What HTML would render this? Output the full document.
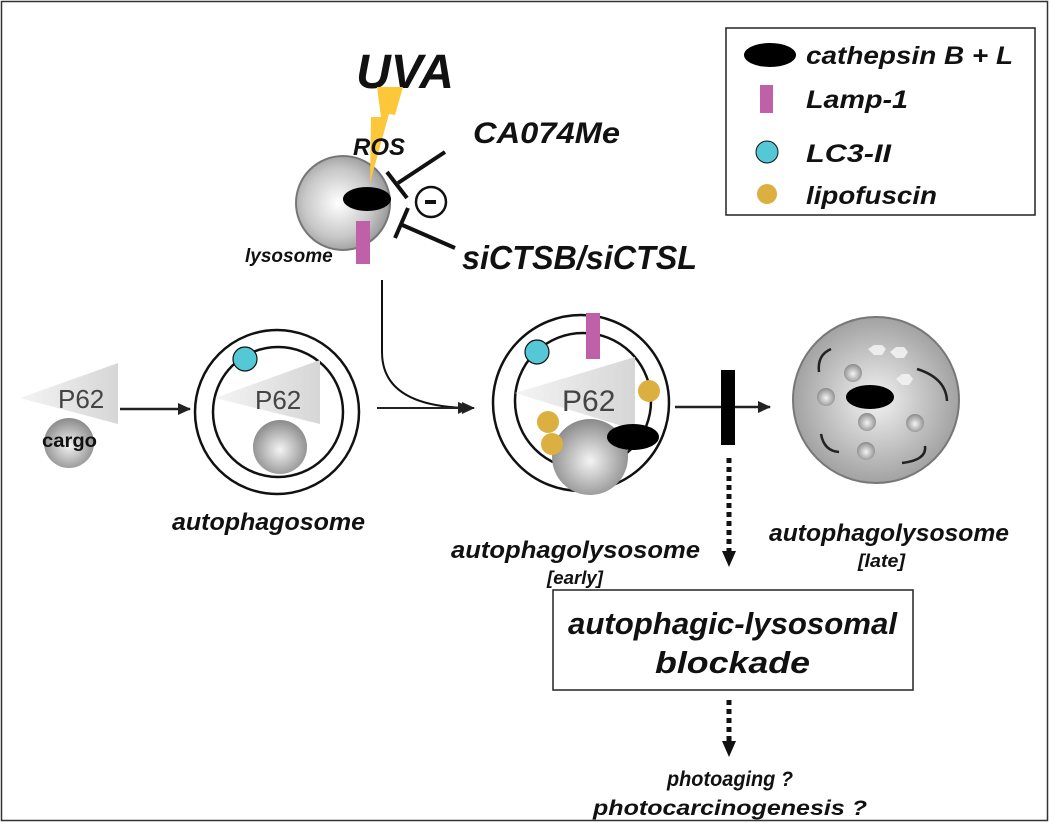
<!DOCTYPE html>
<html><head><meta charset="utf-8"><style>
html,body{margin:0;padding:0;background:#fff}
svg{display:block}
text{font-family:"Liberation Sans",Arial,sans-serif}
.bi{font-weight:bold;font-style:italic;fill:#111}
</style></head><body>
<svg width="1050" height="823" viewBox="0 0 1050 823" xmlns="http://www.w3.org/2000/svg">
<defs>
<radialGradient id="sph" cx="0.45" cy="0.5" r="0.6">
<stop offset="0" stop-color="#ffffff"/><stop offset="0.6" stop-color="#c8c8c8"/><stop offset="1" stop-color="#8c8c8c"/></radialGradient>
<radialGradient id="ball" cx="0.5" cy="0.55" r="0.55">
<stop offset="0" stop-color="#f4f4f4"/><stop offset="1" stop-color="#8a8a8a"/></radialGradient>
<radialGradient id="late" cx="0.5" cy="0.5" r="0.55">
<stop offset="0" stop-color="#f2f2f2"/><stop offset="1" stop-color="#9a9a9a"/></radialGradient>
<linearGradient id="tri" x1="0" y1="0" x2="1" y2="0">
<stop offset="0" stop-color="#f4f4f4"/><stop offset="1" stop-color="#d6d6d6"/></linearGradient>
<marker id="ah" markerWidth="14" markerHeight="12" refX="12" refY="6" orient="auto" markerUnits="userSpaceOnUse"><path d="M0,0 L13,6 L0,12z" fill="#222"/></marker>
</defs>
<rect x="1.5" y="1.5" width="1046" height="819" fill="#fff" stroke="#333" stroke-width="1.5"/>

<!-- legend -->
<rect x="726" y="28" width="309" height="187" fill="#fff" stroke="#222" stroke-width="1.5"/>
<ellipse cx="770" cy="55" rx="26" ry="12" fill="#000"/>
<text x="806" y="64" class="bi" font-size="25" textLength="207" lengthAdjust="spacingAndGlyphs">cathepsin B + L</text>
<rect x="760" y="85" width="13" height="28" fill="#c060a8"/>
<text x="806" y="108" class="bi" font-size="25" textLength="102" lengthAdjust="spacingAndGlyphs">Lamp-1</text>
<circle cx="767" cy="152" r="11" fill="#55c8d5" stroke="#111" stroke-width="1"/>
<text x="806" y="162" class="bi" font-size="25" textLength="85" lengthAdjust="spacingAndGlyphs">LC3-II</text>
<circle cx="767" cy="194" r="10" fill="#dcb040"/>
<text x="806" y="204" class="bi" font-size="25" textLength="131" lengthAdjust="spacingAndGlyphs">lipofuscin</text>

<!-- UVA -->
<text x="405" y="88" class="bi" font-size="48" text-anchor="middle">UVA</text>
<circle cx="343" cy="203" r="47" fill="url(#sph)" stroke="#777" stroke-width="2"/>
<polygon points="377,87 403,87 395,115 389,114 370,183 371,117 381,117" fill="#fcc83a"/>
<text x="353" y="155" class="bi" font-size="24">ROS</text>
<ellipse cx="367" cy="199" rx="24" ry="12" fill="#000"/>
<rect x="356" y="221" width="14" height="43" fill="#c060a8"/>
<text x="245" y="262" class="bi" font-size="19">lysosome</text>
<text x="473" y="143" class="bi" font-size="30" textLength="147" lengthAdjust="spacingAndGlyphs">CA074Me</text>
<text x="462" y="269" class="bi" font-size="33" textLength="235" lengthAdjust="spacingAndGlyphs">siCTSB/siCTSL</text>
<g stroke="#111" stroke-width="4" fill="none">
<line x1="445" y1="152" x2="398" y2="183"/>
<line x1="387" y1="172" x2="407" y2="198"/>
<line x1="455" y1="248" x2="400" y2="224"/>
<line x1="395" y1="238" x2="408" y2="208"/>
</g>
<circle cx="431" cy="202" r="15" fill="#fff" stroke="#111" stroke-width="2.5"/>
<rect x="425" y="200" width="11" height="4" fill="#111"/>

<!-- connectors -->
<path d="M382,280 L382,352 Q382,407 470,408" fill="none" stroke="#111" stroke-width="2" marker-end="url(#ah)"/>
<line x1="377" y1="408" x2="474" y2="408" stroke="#222" stroke-width="2" marker-end="url(#ah)"/>
<line x1="120" y1="409" x2="190" y2="409" stroke="#222" stroke-width="2.5" marker-end="url(#ah)"/>

<!-- left cargo -->
<polygon points="20,398 118,363 118,424" fill="url(#tri)"/>
<text x="58" y="408" font-size="26" fill="#444">P62</text>
<circle cx="69" cy="443" r="25" fill="url(#ball)"/>
<text x="42" y="447" font-size="19" font-weight="bold" fill="#111" textLength="55" lengthAdjust="spacingAndGlyphs">cargo</text>

<!-- autophagosome -->
<circle cx="277" cy="412" r="82" fill="#fff" stroke="#111" stroke-width="2.5"/>
<circle cx="278" cy="412" r="65" fill="#fff" stroke="#111" stroke-width="2.5"/>
<polygon points="215,398 320,360 320,424" fill="url(#tri)"/>
<text x="255" y="409" font-size="26" fill="#444">P62</text>
<circle cx="280" cy="447" r="27" fill="url(#ball)"/>
<circle cx="245" cy="359" r="12" fill="#55c8d5" stroke="#111" stroke-width="1.2"/>
<text x="172" y="530" class="bi" font-size="24" textLength="193" lengthAdjust="spacingAndGlyphs">autophagosome</text>

<!-- early -->
<circle cx="581" cy="403" r="88" fill="#fff" stroke="#111" stroke-width="2.5"/>
<circle cx="583" cy="401" r="68" fill="#fff" stroke="#111" stroke-width="2.5"/>
<rect x="586" y="313" width="14" height="46" fill="#c060a8"/>
<polygon points="515,393 635,357 635,430" fill="url(#tri)"/>
<text x="562" y="411" font-size="30" fill="#444">P62</text>
<circle cx="590" cy="457" r="38" fill="url(#ball)"/>
<ellipse cx="633" cy="437" rx="26" ry="13" fill="#000"/>
<circle cx="537" cy="352" r="12" fill="#55c8d5" stroke="#111" stroke-width="1.2"/>
<circle cx="649" cy="391" r="11" fill="#dcb040"/>
<circle cx="548" cy="422" r="11" fill="#dcb040"/>
<circle cx="552" cy="444" r="11" fill="#dcb040"/>
<text x="451" y="558" class="bi" font-size="24" textLength="249" lengthAdjust="spacingAndGlyphs">autophagolysosome</text>
<text x="547" y="584" class="bi" font-size="18" textLength="56" lengthAdjust="spacingAndGlyphs">[early]</text>

<!-- block -->
<line x1="675" y1="407" x2="770" y2="407" stroke="#222" stroke-width="2.5" marker-end="url(#ah)"/>
<rect x="721" y="370" width="14" height="75" fill="#000"/>
<line x1="729" y1="458" x2="729" y2="552" stroke="#111" stroke-width="5" stroke-dasharray="5,4"/>
<polygon points="722,551 736,551 729,567" fill="#111"/>

<!-- late -->
<circle cx="876" cy="400" r="83" fill="url(#late)" stroke="#777" stroke-width="2"/>
<g fill="none" stroke="#222" stroke-width="2.5">
<path d="M831,349 Q817,355 819,372"/>
<path d="M917,369 Q946,378 947,401"/>
<path d="M821,434 Q824,451 839,452"/>
<path d="M925,446 Q927,460 902,463"/>
</g>
<g fill="#f2f2f2" opacity="0.9">
<polygon points="868,349 874,345 882,345 886,349 882,355 874,355"/>
<polygon points="890,352 896,347 904,347 908,352 904,358 896,358"/>
<polygon points="896,379 902,374 909,374 913,379 909,385 902,385"/>
</g>
<g fill="url(#ball)">
<circle cx="853" cy="373" r="9"/><circle cx="826" cy="397" r="9"/>
<circle cx="867" cy="422" r="9"/><circle cx="915" cy="423" r="9"/>
<circle cx="866" cy="451" r="9"/>
</g>
<ellipse cx="870" cy="397" rx="24" ry="12" fill="#000"/>
<text x="769" y="541" class="bi" font-size="24" textLength="240" lengthAdjust="spacingAndGlyphs">autophagolysosome</text>
<text x="858" y="567" class="bi" font-size="18" textLength="47" lengthAdjust="spacingAndGlyphs">[late]</text>

<!-- blockade box -->
<rect x="553" y="590" width="360" height="100" fill="#fff" stroke="#222" stroke-width="1.5"/>
<text x="568" y="634" class="bi" font-size="31" textLength="329" lengthAdjust="spacingAndGlyphs">autophagic-lysosomal</text>
<text x="655" y="673" class="bi" font-size="31" textLength="155" lengthAdjust="spacingAndGlyphs">blockade</text>
<line x1="729" y1="700" x2="729" y2="742" stroke="#111" stroke-width="5" stroke-dasharray="5,4"/>
<polygon points="722,741 736,741 729,757" fill="#111"/>
<text x="667" y="786" class="bi" font-size="21" textLength="126" lengthAdjust="spacingAndGlyphs">photoaging ?</text>
<text x="593" y="815" class="bi" font-size="21" textLength="274" lengthAdjust="spacingAndGlyphs">photocarcinogenesis ?</text>
</svg>
</body></html>
